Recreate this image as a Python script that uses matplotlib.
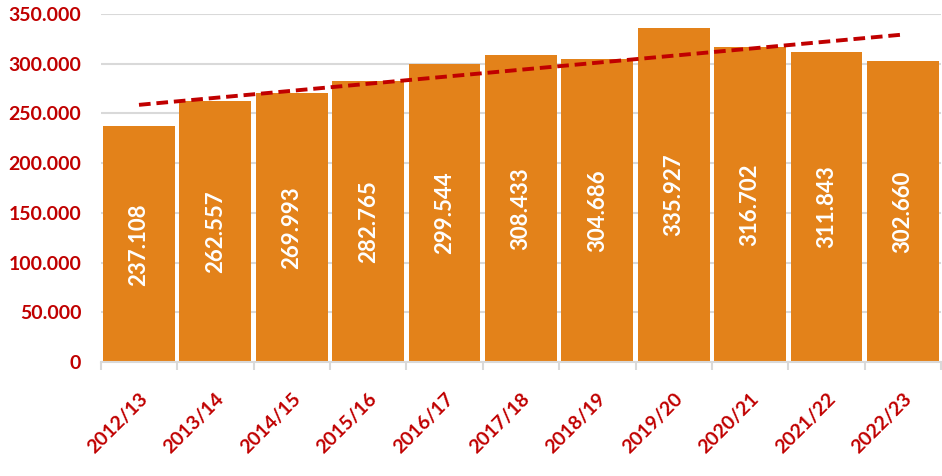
import matplotlib.pyplot as plt
import numpy as np
from matplotlib.ticker import FuncFormatter, FixedLocator

plt.rcParams['font.family'] = ['Lato', 'DejaVu Sans']

# Studienjahre und Werte
years = ['2012/13', '2013/14', '2014/15', '2015/16', '2016/17', '2017/18',
         '2018/19', '2019/20', '2020/21', '2021/22', '2022/23']
values = [237108, 262557, 269993, 282765, 299544, 308433,
          304686, 335927, 316702, 311843, 302660]

bar_color = '#E3821A'
red = '#C00000'

fig = plt.figure(figsize=(9.42, 4.76), dpi=100)
ax = fig.add_axes([0.107, 0.239, 0.892, 0.732])

x = np.arange(len(years))
ax.bar(x, values, width=0.94, color=bar_color, zorder=2)

# lineare Trendlinie
k, d = np.polyfit(x, values, 1)
ax.plot(x, k * x + d, linestyle=(0, (3, 1.5)), color=red, linewidth=2.8, zorder=3)

# Werte in den Balken
for xi, v in zip(x, values):
    ax.text(xi, v / 2, f'{v:,}'.replace(',', '.'), rotation=90, ha='center', va='center',
            color='white', fontsize=16, fontweight='bold', zorder=4)

ax.set_ylim(0, 350000)
ax.set_xlim(-0.5, len(years) - 0.5)
ax.set_yticks(np.arange(0, 350001, 50000))
ax.yaxis.set_major_formatter(FuncFormatter(
    lambda v, p: '0' if v == 0 else f'{v / 1000:.3f}'))
ax.grid(axis='y', color='#D9D9D9', linewidth=1.5, zorder=0)
ax.set_axisbelow(True)

ax.set_xticks(x)
ax.set_xticklabels(years, rotation=45, ha='right', rotation_mode='anchor')
ax.xaxis.set_minor_locator(FixedLocator(np.arange(-0.5, len(years), 1)))
ax.tick_params(axis='x', which='major', length=0, pad=20, labelsize=14, labelcolor=red)
ax.tick_params(axis='x', which='minor', length=6, color='#D9D9D9', width=1.5)
ax.tick_params(axis='y', length=0, labelsize=14, labelcolor=red, pad=14)
for lbl in ax.get_xticklabels() + ax.get_yticklabels():
    lbl.set_fontweight('bold')

for s in ['top', 'right', 'left']:
    ax.spines[s].set_visible(False)
ax.spines['bottom'].set_color('#D9D9D9')
ax.spines['bottom'].set_linewidth(1.5)

plt.savefig('out.png', dpi=100)
plt.close()
